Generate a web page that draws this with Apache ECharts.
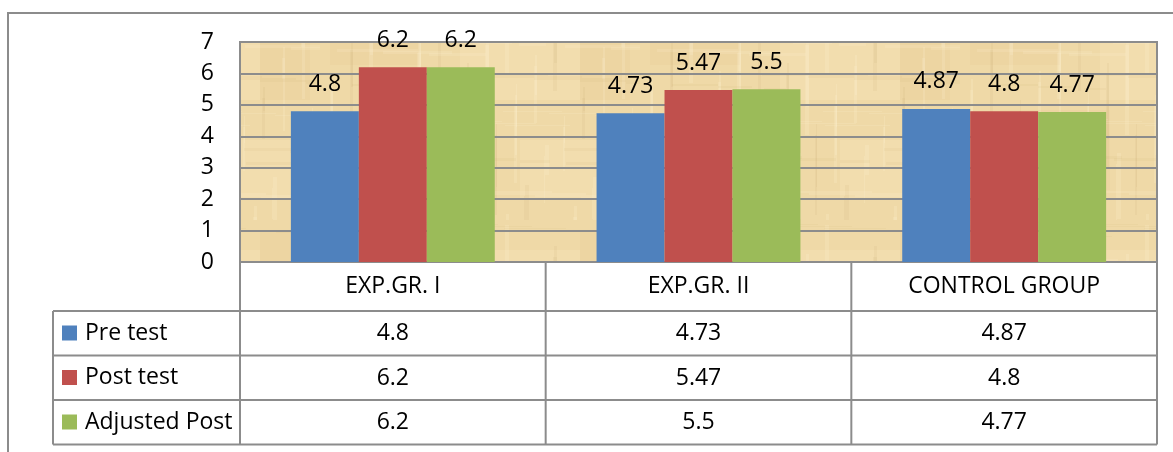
<!DOCTYPE html>
<html>
<head>
<meta charset="utf-8">
<script src="https://cdn.jsdelivr.net/npm/echarts@6/dist/echarts.min.js"></script>
<style>
  html, body { margin: 0; padding: 0; background: #ffffff; }
  #chart { width: 1173px; height: 452px; }
</style>
</head>
<body>
<div id="chart"></div>
<script>
// Group means per test
const categories = ['EXP.GR. I', 'EXP.GR. II', 'CONTROL GROUP'];
const seriesNames = ['Pre test', 'Post test', 'Adjusted Post'];
const preTest = [4.8, 4.73, 4.87];
const postTest = [6.2, 5.47, 4.8];
const adjustedPost = [6.2, 5.5, 4.77];
const yMin = 0, yMax = 7, yStep = 1;

const seriesValues = [preTest, postTest, adjustedPost];
const seriesColors = ['#4F81BD', '#C0504D', '#9BBB59'];

// layout
const GRID = { left: 240, top: 42, width: 917, height: 220 };
const HEADER_H = 49;
const ROW_H = 44.5;
const LEGEND_COL_X = 53;
const LINE_COLOR = '#8c8c8c';
const FONT = '"Open Sans", "Noto Sans", sans-serif';
const FS = 23;

// parchment-like fill for the plotting area
function parchment() {
  const w = 320, h = 220;
  const c = document.createElement('canvas');
  c.width = w; c.height = h;
  const g = c.getContext('2d');
  g.fillStyle = '#EFD9A7';
  g.fillRect(0, 0, w, h);
  // broad soft patches
  const patches = [[10, 5, 90, 60], [140, 30, 120, 70], [40, 110, 110, 80], [200, 140, 100, 60], [260, 10, 50, 90]];
  patches.forEach((p, i) => {
    g.fillStyle = i % 2 ? 'rgba(250,236,196,0.25)' : 'rgba(226,196,132,0.15)';
    g.fillRect(p[0], p[1], p[2], p[3]);
  });
  // vertical fibres
  for (let i = 0; i < 70; i++) {
    const x = (i * 97) % w;
    const y = (i * 53) % h;
    const fw = 1 + (i * 7) % 4;
    const fh = 15 + (i * 31) % 80;
    g.fillStyle = i % 3 ? 'rgba(255,246,218,0.18)' : 'rgba(196,165,105,0.10)';
    g.fillRect(x, y, fw, fh);
  }
  // horizontal fibres
  for (let i = 0; i < 50; i++) {
    const x = (i * 61) % w;
    const y = (i * 37) % h;
    const fw = 20 + (i * 43) % 90;
    const fh = 1 + (i * 5) % 3;
    g.fillStyle = i % 2 ? 'rgba(255,244,212,0.16)' : 'rgba(190,160,100,0.08)';
    g.fillRect(x, y, fw, fh);
  }
  return c;
}

const chart = echarts.init(document.getElementById('chart'), null, { renderer: 'canvas' });

// table rows below the category axis, one axis per series
const rowAxes = seriesValues.map((vals, i) => ({
  type: 'category',
  gridIndex: 0,
  position: 'bottom',
  offset: HEADER_H + ROW_H * i,
  data: vals.map(v => String(v)),
  axisLine: { show: false },
  axisTick: { show: false },
  axisLabel: {
    interval: 0, margin: 10.5, fontSize: FS, lineHeight: 24,
    fontFamily: FONT, color: '#000'
  }
}));

// table grid lines
function tableLines() {
  const right = GRID.left + GRID.width;
  const axisY = GRID.top + GRID.height;
  const bottom = axisY + HEADER_H + ROW_H * seriesValues.length;
  const els = [];
  const line = (x1, y1, x2, y2) => els.push({
    type: 'line', silent: true, z: 10,
    shape: { x1, y1, x2, y2 },
    style: { stroke: LINE_COLOR, lineWidth: 2 }
  });
  for (let r = 0; r <= seriesValues.length; r++) {
    const y = axisY + HEADER_H + ROW_H * r;
    line(LEGEND_COL_X, y, right, y);
  }
  const colW = GRID.width / categories.length;
  for (let k = 0; k <= categories.length; k++) {
    const x = GRID.left + colW * k;
    line(x, axisY, x, bottom);
  }
  line(LEGEND_COL_X, axisY + HEADER_H, LEGEND_COL_X, bottom);
  // outer frame
  els.push({
    type: 'rect', silent: true, z: 10,
    shape: { x: 8, y: 13, width: 1300, height: 600 },
    style: { fill: 'none', stroke: LINE_COLOR, lineWidth: 2 }
  });
  return els;
}

chart.setOption({
  animation: false,
  backgroundColor: '#ffffff',
  textStyle: { fontFamily: FONT },
  grid: {
    left: GRID.left, top: GRID.top, width: GRID.width, height: GRID.height,
    show: true,
    backgroundColor: { image: parchment(), repeat: 'repeat' },
    borderColor: LINE_COLOR, borderWidth: 2,
    containLabel: false
  },
  legend: {
    orient: 'vertical',
    left: 62,
    top: 321,
    padding: 0,
    itemWidth: 15,
    itemHeight: 15,
    itemGap: ROW_H - 24,
    icon: 'rect',
    selectedMode: false,
    data: seriesNames,
    textStyle: { fontSize: FS, lineHeight: 24, fontFamily: FONT, color: '#000', padding: [0, 0, 0, 3] }
  },
  xAxis: [{
    type: 'category',
    data: categories,
    axisLine: { show: true, lineStyle: { color: LINE_COLOR, width: 2 } },
    axisTick: { show: false },
    axisLabel: { interval: 0, margin: 12, fontSize: FS, lineHeight: 24, fontFamily: FONT, color: '#000' }
  }].concat(rowAxes),
  yAxis: {
    type: 'value',
    min: yMin, max: yMax, interval: yStep,
    axisLine: { show: false },
    axisTick: { show: false },
    axisLabel: { margin: 26, fontSize: FS, fontFamily: FONT, color: '#000' },
    splitLine: { show: true, lineStyle: { color: LINE_COLOR, width: 2 } }
  },
  series: seriesNames.map((name, i) => ({
    name,
    type: 'bar',
    xAxisIndex: 0,
    data: seriesValues[i],
    barGap: '0%',
    barCategoryGap: '33.3%',
    itemStyle: { color: seriesColors[i] },
    label: {
      show: true, position: 'top', distance: 15,
      fontSize: FS, lineHeight: 24, fontFamily: FONT, color: '#000'
    }
  })),
  graphic: tableLines()
});
</script>
</body>
</html>
